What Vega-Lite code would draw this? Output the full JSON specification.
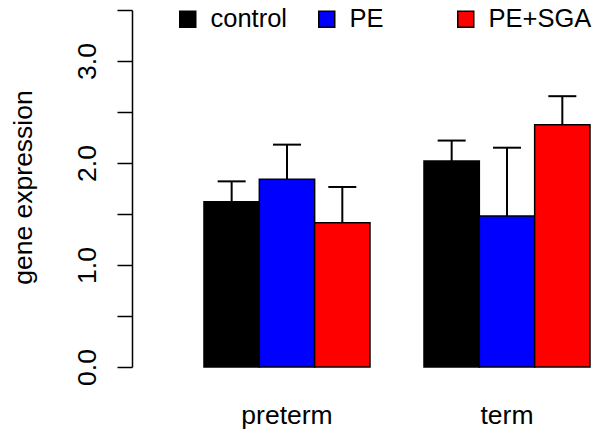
{
  "$schema": "https://vega.github.io/schema/vega-lite/v6.json",
  "autosize": {"type": "none"},
  "padding": {"left": 132, "top": 10, "right": 0, "bottom": 65},
  "width": 470,
  "height": 357,
  "background": "white",
  "config": {
    "view": {"stroke": null},
    "font": "Liberation Sans",
    "axis": {
      "labelFont": "Liberation Sans",
      "titleFont": "Liberation Sans",
      "labelColor": "black",
      "titleColor": "black",
      "domainColor": "black",
      "tickColor": "black",
      "labelFontSize": 26.5,
      "titleFontSize": 26.5,
      "titleFontWeight": "normal",
      "grid": false
    },
    "legend": {
      "labelFont": "Liberation Sans",
      "labelFontSize": 25.5,
      "labelColor": "black"
    }
  },
  "data": {
    "values": [
      {"term": "preterm", "group": "control", "value": 1.62, "upper": 1.82},
      {"term": "preterm", "group": "PE", "value": 1.84, "upper": 2.18},
      {"term": "preterm", "group": "PE+SGA", "value": 1.415, "upper": 1.765},
      {"term": "term", "group": "control", "value": 2.02, "upper": 2.22},
      {"term": "term", "group": "PE", "value": 1.48, "upper": 2.15},
      {"term": "term", "group": "PE+SGA", "value": 2.375, "upper": 2.655}
    ]
  },
  "encoding": {
    "x": {
      "field": "term",
      "type": "nominal",
      "sort": ["preterm", "term"],
      "scale": {"paddingInner": 0.2455, "paddingOuter": 0.1909, "align": 0.857},
      "axis": {
        "title": null,
        "domain": false,
        "ticks": false,
        "tickSize": 0,
        "labelAngle": 0,
        "labelPadding": 56,
        "labelBaseline": "alphabetic"
      }
    },
    "xOffset": {
      "field": "group",
      "type": "nominal",
      "sort": ["control", "PE", "PE+SGA"],
      "scale": {"paddingInner": 0, "paddingOuter": 0}
    }
  },
  "layer": [
    {
      "mark": {"type": "bar", "stroke": "black", "strokeWidth": 1.5, "opacity": 1},
      "encoding": {
        "y": {
          "field": "value",
          "type": "quantitative",
          "scale": {"domain": [0, 3.5], "nice": false, "zero": true},
          "axis": {
            "title": "gene expression",
            "values": [0, 0.5, 1, 1.5, 2, 2.5, 3, 3.5],
            "labelExpr": "datum.value % 1 == 0 ? format(datum.value, '.1f') : ''",
            "labelAngle": -90,
            "labelAlign": "center",
            "labelBaseline": "alphabetic",
            "tickSize": 15,
            "tickWidth": 1.5,
            "domainWidth": 1.5,
            "labelPadding": 22,
            "titleAngle": -90,
            "titleAlign": "center",
            "titleBaseline": "alphabetic",
            "titleX": -101,
            "titleY": 177
          }
        },
        "color": {
          "field": "group",
          "type": "nominal",
          "sort": ["control", "PE", "PE+SGA"],
          "scale": {"domain": ["control", "PE", "PE+SGA"], "range": ["#000000", "#0000ff", "#ff0000"]},
          "legend": {
            "title": null,
            "orient": "none",
            "legendX": 43,
            "legendY": -4,
            "direction": "horizontal",
            "symbolType": "square",
            "symbolSize": 256,
            "symbolStrokeColor": "black",
            "symbolStrokeWidth": 1.5,
            "symbolOpacity": 1,
            "labelOffset": 10,
            "gridAlign": "all",
            "columnPadding": 0,
            "padding": 0
          }
        }
      }
    },
    {
      "mark": {"type": "rule", "color": "black", "strokeWidth": 2},
      "encoding": {
        "y": {"field": "value", "type": "quantitative"},
        "y2": {"field": "upper"}
      }
    },
    {
      "mark": {"type": "tick", "color": "black", "size": 28, "thickness": 2, "opacity": 1},
      "encoding": {
        "y": {"field": "upper", "type": "quantitative"}
      }
    }
  ]
}
